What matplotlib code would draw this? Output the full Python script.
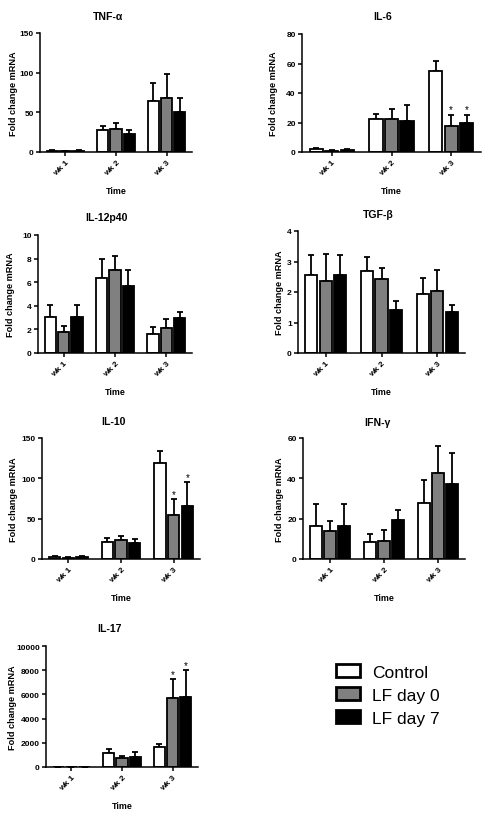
import matplotlib
matplotlib.use('Agg')
import matplotlib.pyplot as plt
import numpy as np

plt.rcParams['font.family'] = ['Liberation Sans', 'DejaVu Sans']

weeks = ['wk 1', 'wk 2', 'wk 3']
groups = ['Control', 'LF day 0', 'LF day 7']
colors = ['white', '#808080', 'black']

titles = ['TNF-α', 'IL-6', 'IL-12p40', 'TGF-β', 'IL-10', 'IFN-γ', 'IL-17']

# means per cytokine: rows = Control, LF day 0, LF day 7; columns = wk 1..3
tnf_mean = [[1.5, 28.0, 64.3], [1.3, 29.4, 68.5], [1.5, 23.0, 51.0]]
tnf_sem = [[0.5, 4.4, 22.7], [0.4, 6.6, 30.2], [0.4, 4.7, 16.6]]

il6_mean = [[1.8, 22.5, 54.7], [0.8, 22.5, 17.3], [1.6, 21.0, 19.8]]
il6_sem = [[0.7, 3.4, 7.2], [0.4, 6.8, 8.1], [0.6, 10.8, 5.6]]

il12_mean = [[3.04, 6.34, 1.63], [1.75, 7.07, 2.14], [3.04, 5.72, 2.99]]
il12_sem = [[0.99, 1.60, 0.57], [0.50, 1.18, 0.73], [0.99, 1.29, 0.50]]

tgf_mean = [[2.56, 2.70, 1.94], [2.36, 2.41, 2.02], [2.56, 1.40, 1.33]]
tgf_sem = [[0.64, 0.44, 0.51], [0.90, 0.37, 0.71], [0.64, 0.29, 0.26]]

il10_mean = [[2.9, 21.2, 118.8], [1.7, 24.1, 54.0], [2.9, 20.4, 66.0]]
il10_sem = [[0.8, 4.6, 14.6], [0.4, 4.1, 20.0], [0.8, 4.9, 29.1]]

ifn_mean = [[16.4, 8.6, 27.7], [13.9, 9.0, 42.6], [16.4, 19.4, 37.1]]
ifn_sem = [[11.1, 3.8, 11.4], [4.7, 5.3, 13.4], [11.1, 5.0, 15.6]]

il17_mean = [[30, 1198, 1615], [10, 780, 5738], [30, 836, 5822]]
il17_sem = [[10, 306, 307], [5, 167, 1504], [10, 417, 2172]]

means = [tnf_mean, il6_mean, il12_mean, tgf_mean, il10_mean, ifn_mean, il17_mean]
sems = [tnf_sem, il6_sem, il12_sem, tgf_sem, il10_sem, ifn_sem, il17_sem]

yticks = [[0, 50, 100, 150], [0, 20, 40, 60, 80], [0, 2, 4, 6, 8, 10],
          [0, 1, 2, 3, 4], [0, 50, 100, 150], [0, 20, 40, 60],
          [0, 2000, 4000, 6000, 8000, 10000]]

# significance marks: (panel, series, week)
stars = [(1, 1, 2), (1, 2, 2), (4, 1, 2), (4, 2, 2), (6, 1, 2), (6, 2, 2)]

# layout in pixels: x0, x1, ytop, ybottom, title x, title y, ylabel x
W, H = 493, 820
boxes = [(40, 192, 34, 153, 108, 17, 18),
         (302, 481, 35, 153, 383, 17, 278),
         (38, 192, 236, 354, 106, 218, 15),
         (298, 465, 232, 354, 378, 215, 284),
         (42, 200, 439, 560, 113, 422, 18),
         (303, 465, 439, 560, 377, 423, 284),
         (46, 198, 647, 768, 110, 629, 17)]

fig = plt.figure(figsize=(W / 100, H / 100), dpi=100)

x = np.arange(len(weeks))
width = 0.22
offsets = [-0.26, 0, 0.26]
bar_handles = []

for i in range(len(titles)):
    x0, x1, yt, yb, tx, ty, lx = boxes[i]
    ax = fig.add_axes([x0 / W, 1 - yb / H, (x1 - x0) / W, (yb - yt) / H])
    for s in range(3):
        b = ax.bar(x + offsets[s], means[i][s], width, color=colors[s],
                   edgecolor='black', linewidth=1.3, zorder=2)
        ax.errorbar(x + offsets[s], means[i][s],
                    yerr=[np.zeros(3), sems[i][s]], fmt='none',
                    ecolor='black', elinewidth=1.3, capsize=2.5,
                    capthick=1.3, zorder=1)
        if i == 0:
            bar_handles.append(b)
    top = yticks[i][-1]
    for p, s, w in stars:
        if p == i:
            ax.text(w + offsets[s], means[i][s][w] + sems[i][s][w] + top * 0.005, '*',
                    ha='center', va='bottom', fontsize=7)
    ax.set_xlim(-0.5, 2.5)
    ax.set_ylim(0, top)
    ax.set_yticks(yticks[i])
    ax.set_xticks(x)
    ax.set_xticklabels(weeks, rotation=45, ha='right', rotation_mode='anchor')
    for sp in ['top', 'right']:
        ax.spines[sp].set_visible(False)
    for sp in ['left', 'bottom']:
        ax.spines[sp].set_linewidth(1.1)
    ax.tick_params(axis='both', direction='out', length=3, width=1.1,
                   labelsize=6, pad=1.5)
    for lab in ax.get_xticklabels() + ax.get_yticklabels():
        lab.set_fontweight('bold')
    ax.set_ylabel('Fold change mRNA', fontsize=6.6, fontweight='bold')
    ax.yaxis.set_label_coords((lx - x0) / (x1 - x0), 0.5)
    ax.set_xlabel('Time', fontsize=6.4, fontweight='bold')
    ax.xaxis.set_label_coords(0.5, -34 / (yb - yt))
    fig.text(tx / W, 1 - ty / H, titles[i], ha='center', va='center',
             fontsize=7.6, fontweight='bold')

leg = fig.legend(bar_handles, groups, loc='upper left',
                 bbox_to_anchor=(336 / W, 1 - 665 / H), frameon=False,
                 fontsize=12.5, borderpad=0, borderaxespad=0,
                 handlelength=1.4, handleheight=0.8, labelspacing=0.42,
                 handletextpad=0.7)
for patch in leg.get_patches():
    patch.set_linewidth(2.0)

fig.savefig('out.png', dpi=100)
